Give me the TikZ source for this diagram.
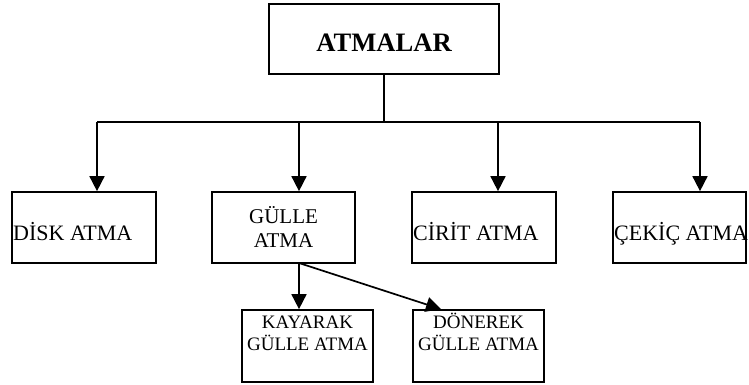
\documentclass[tikz,border=0pt]{standalone}
\usepackage{fontspec}
\setmainfont{Liberation Serif}
\usetikzlibrary{arrows.meta}

\begin{document}
\begin{tikzpicture}[x=1pt,y=-1pt,
    box/.style={draw, line width=1.7pt, inner sep=0pt, minimum width=#1, minimum height=71pt},
    box/.default=144pt,
    lbl/.style={inner sep=0pt, font=\fontsize{22}{24}\selectfont},
    sublbl/.style={inner sep=0pt, align=center, font=\fontsize{19}{22}\selectfont},
    line/.style={line width=1.7pt},
    arr/.style={line width=1.7pt, -{Triangle[length=15pt,width=15pt]}}]
    \useasboundingbox (0,0) rectangle (749,385);
    % boxes
    \node[box=230pt, minimum height=70pt] (atmalar) at (384,39) {};
    \node[box] (disk) at (84,227.5) {};
    \node[box=143pt] (gulle) at (283.5,227.5) {};
    \node[box] (cirit) at (484,227.5) {};
    \node[box=133pt] (cekic) at (679.5,227.5) {};
    \node[box=131pt, minimum height=72pt] (kayarak) at (307.5,346) {};
    \node[box=131pt, minimum height=72pt] (donerek) at (478.5,346) {};
    % texts
    \node[inner sep=0pt, anchor=base, font=\fontsize{26.6}{30}\selectfont\bfseries] (atmalartxt) at (384,52) {ATMALAR};
    \node[lbl, anchor=base west] (disktxt) at (13,240) {DİSK ATMA};
    \node[lbl, anchor=base, align=center, font=\fontsize{21}{24}\selectfont] (gulletxt) at (283.5,247) {GÜLLE\\ATMA};
    \node[lbl, anchor=base west] (cirittxt) at (413,240) {CİRİT ATMA};
    \node[lbl, anchor=base west] (cekictxt) at (614,240) {ÇEKİÇ ATMA};
    \node[sublbl, anchor=base] (kayaraktxt) at (307.5,350) {KAYARAK\\GÜLLE ATMA};
    \node[sublbl, anchor=base] (donerektxt) at (478.5,350) {DÖNEREK\\GÜLLE ATMA};
    % connectors
    \coordinate (split) at (384,122);
    \coordinate (jdisk) at (97,122);
    \coordinate (jgulle) at (299,122);
    \coordinate (jcirit) at (498,122);
    \coordinate (jcekic) at (700,122);
    \coordinate (gout) at (299,263);
    \draw[line] (atmalar.south) -- (split);
    \draw[line] (jdisk) -- (jcekic);
    \draw[arr] (jdisk) -- (jdisk |- disk.north);
    \draw[arr] (jgulle) -- (jgulle |- gulle.north);
    \draw[arr] (jcirit) -- (jcirit |- cirit.north);
    \draw[arr] (jcekic) -- (jcekic |- cekic.north);
    \draw[arr] (gout) -- (gout |- kayarak.north);
    \draw[arr] (gout) -- ([xshift=-37.5pt]donerek.north);
\end{tikzpicture}
\end{document}
